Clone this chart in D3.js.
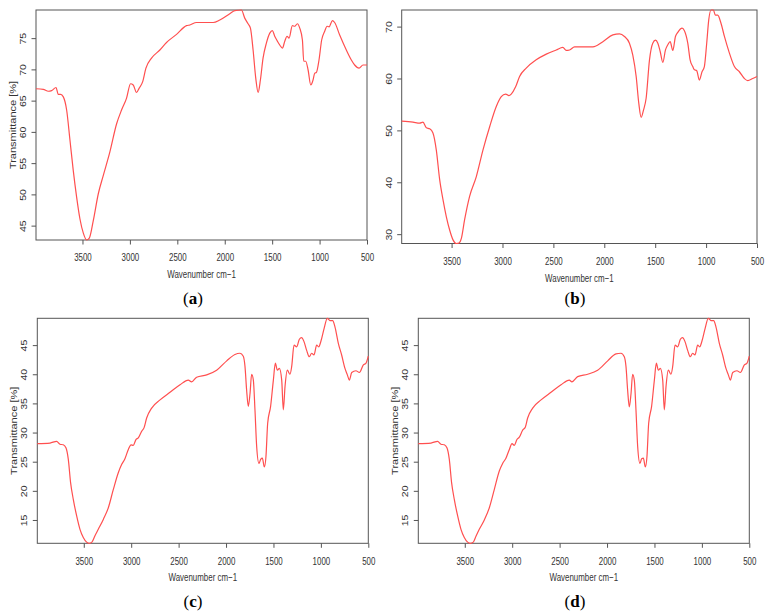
<!DOCTYPE html>
<html><head><meta charset="utf-8">
<script src="https://cdn.jsdelivr.net/npm/d3@7"></script>
<style>body{margin:0;background:#fff}svg{display:block}</style>
</head><body><svg id="chart" width="772" height="615"></svg>
<script>
// ---- data ----
const aWave=[3990,3913,3860,3825,3779,3755,3730,3702,3667,3632,3597,3562,3527,3491,3456,3428,3386,3333,3281,3211,3140,3088,3035,2993,2965,2930,2902,2866,2831,2772,2684,2614,2508,2403,2368,2298,2122,2052,1947,1894,1824,1789,1754,1729,1701,1673,1648,1624,1596,1561,1525,1497,1473,1448,1420,1392,1367,1343,1322,1287,1262,1234,1209,1181,1167,1146,1121,1093,1069,1051,1034,1006,978,946,921,900,865,841,788,718,665,630,584,542,500];
const aT=[66.9,66.8,66.5,66.6,67.1,66.0,66.0,65.6,63.5,58.7,53.8,49.6,46.1,43.8,42.7,43.0,45.8,50.1,53.0,56.8,61.3,63.5,65.4,67.7,67.5,66.3,67.0,68.0,70.2,71.8,73.1,74.3,75.6,77.0,77.1,77.5,77.5,77.9,78.9,79.4,79.5,78.2,77.3,76.6,73.1,68.6,66.3,68.3,71.8,74.2,75.8,76.2,75.3,74.6,73.9,73.4,74.5,75.3,75.0,77.0,76.9,77.3,76.6,74.7,71.3,71.3,69.9,67.5,68.3,69.4,69.5,71.5,74.7,76.1,76.9,76.8,77.8,77.5,75.5,73.1,71.5,70.7,70.2,70.7,70.7];

const bWave=[3990,3879,3813,3781,3748,3715,3683,3650,3617,3584,3552,3519,3486,3454,3427,3404,3372,3323,3257,3192,3126,3061,3012,2969,2937,2914,2871,2832,2767,2669,2570,2472,2407,2374,2341,2292,2178,2112,2014,1916,1851,1802,1753,1720,1687,1661,1638,1615,1589,1556,1524,1497,1474,1451,1425,1399,1376,1353,1327,1301,1278,1236,1213,1180,1157,1131,1115,1092,1066,1040,1017,994,974,951,928,909,886,853,820,771,722,673,624,591,542,500];
const bT=[51.8,51.6,51.4,51.6,50.5,50.3,49.5,46.2,40.5,36.6,33.4,30.8,28.9,28.2,28.3,29.2,32.8,37.3,41.1,46.2,50.7,54.6,56.5,57.0,56.7,57.0,58.4,60.4,62.0,63.6,64.7,65.5,66.0,65.4,65.5,66.1,66.1,66.1,67.1,68.4,68.6,68.1,66.8,64.5,60.4,55.2,52.5,53.9,56.2,63.6,66.8,67.4,66.8,65.2,63.1,65.5,66.5,67.1,65.4,68.1,68.9,69.7,69.2,66.8,63.6,62.3,61.7,61.5,59.7,61.3,62.3,66.8,71.3,73.2,73.2,72.2,72.2,70.6,68.1,64.9,62.3,61.3,60.0,59.6,60.0,60.4];

const cWave=[3990,3856,3786,3751,3716,3688,3663,3639,3610,3575,3540,3505,3470,3442,3414,3382,3347,3294,3241,3189,3136,3101,3066,3030,3002,2978,2950,2925,2890,2865,2837,2784,2696,2591,2485,2398,2363,2310,2204,2099,1993,1906,1853,1818,1800,1783,1765,1747,1730,1712,1695,1677,1653,1635,1617,1596,1579,1561,1530,1501,1480,1459,1438,1413,1396,1378,1354,1326,1308,1283,1255,1227,1203,1178,1150,1122,1097,1073,1044,1023,999,967,932,904,876,851,816,781,746,721,700,675,630,594,552,524,500];
const cT=[28.1,28.2,28.5,28.0,27.9,27.4,25.4,21.4,18.5,15.7,13.4,12.0,11.2,11.0,11.2,12.3,13.4,15.1,17.1,20.2,23.1,24.5,25.5,27.1,27.9,27.8,28.8,29.1,30.2,30.8,32.5,34.2,35.6,36.9,38.2,39.0,38.7,39.5,39.9,40.7,42.3,43.4,43.6,43.1,41.3,37.3,34.5,36.7,40.0,39.0,33.9,27.6,24.7,25.4,25.6,24.1,25.9,31.6,34.5,39.0,41.9,40.7,41.0,39.0,33.9,37.9,40.7,40.0,41.3,45.0,44.7,46.0,46.3,45.6,44.1,43.0,43.6,43.3,45.0,44.7,45.7,47.8,49.6,49.2,49.2,48.1,45.3,43.3,41.0,39.9,39.0,40.3,40.6,40.3,41.6,41.9,43.1];

const dWave=[3990,3856,3786,3751,3716,3688,3663,3639,3610,3575,3540,3505,3470,3442,3410,3382,3347,3294,3241,3189,3136,3101,3066,3030,3002,2978,2950,2925,2890,2862,2837,2784,2696,2591,2485,2398,2370,2310,2204,2099,1993,1906,1853,1818,1800,1783,1765,1747,1730,1712,1695,1677,1653,1635,1617,1596,1579,1561,1530,1501,1480,1459,1438,1413,1396,1378,1354,1326,1308,1283,1255,1227,1203,1178,1150,1122,1097,1073,1044,1023,999,967,932,904,876,851,816,781,746,721,700,675,630,594,552,524,500];
const dT=[28.1,28.2,28.5,28.0,27.9,27.4,25.4,21.4,18.5,15.7,13.4,12.0,11.2,11.0,11.2,12.2,13.4,15.0,17.1,20.2,23.4,24.7,25.6,27.1,28.1,27.8,28.8,29.2,30.4,30.9,32.5,34.2,35.6,36.9,38.2,39.0,38.7,39.6,40.0,40.7,42.3,43.5,43.6,43.0,41.3,37.3,34.4,36.7,40.0,38.9,33.9,27.6,24.7,25.5,25.6,24.1,25.9,31.6,34.5,39.0,41.9,40.7,41.0,39.0,33.9,37.9,40.7,40.0,41.3,45.0,44.7,46.0,46.3,45.6,44.1,43.0,43.6,43.3,45.0,44.7,45.7,47.8,49.6,49.2,49.2,48.1,45.3,43.3,41.0,39.9,39.0,40.3,40.6,40.3,41.6,41.9,43.1];

const xTicks=[3500,3000,2500,2000,1500,1000,500];
const aYTicks=[45,50,55,60,65,70,75];
const bYTicks=[30,40,50,60,70];
const cYTicks=[15,20,25,30,35,40,45];
const dYTicks=[15,20,25,30,35,40,45];
const captions=["a","b","c","d"];
const xTitle="Wavenumber cm\u22121";
const yTitle="Transmittance [%]";

// ---- layout ----
const panels=[
  {wave:aWave,t:aT,yt:aYTicks,cap:captions[0],l:36,r:367,top:10,bot:240,ytitle:true,cx:193,cy:298},
  {wave:bWave,t:bT,yt:bYTicks,cap:captions[1],l:401.7,r:757,top:10,bot:243.5,ytitle:false,cx:575,cy:298},
  {wave:cWave,t:cT,yt:cYTicks,cap:captions[2],l:37.3,r:368.3,top:318.3,bot:543.3,ytitle:true,cx:193,cy:601},
  {wave:dWave,t:dT,yt:dYTicks,cap:captions[3],l:418.3,r:749.3,top:318.3,bot:543.3,ytitle:true,cx:575,cy:601}
];
const sans="'Liberation Sans', Arial, Helvetica, sans-serif";
const lineColor="#ff4f4f", axisColor="#555", textColor="#333";

const svg=d3.select("#chart");
svg.append("rect").attr("width",772).attr("height",615).attr("fill","#fff");

panels.forEach(p=>{
  const data=p.wave.map((w,i)=>({w:w,t:p.t[i]}));
  const x=d3.scaleLinear().domain([d3.max(p.wave),d3.min(p.wave)]).range([p.l,p.r]);
  const y=d3.scaleLinear().domain(d3.extent(p.t)).range([p.bot,p.top]);
  const g=svg.append("g");

  // x axis
  const gx=g.append("g").attr("transform",`translate(0,${p.bot})`)
    .call(d3.axisBottom(x).tickValues(xTicks).tickSize(4.5).tickFormat(d3.format("d")));
  gx.select(".domain").remove();
  gx.selectAll(".tick line").attr("stroke",axisColor);
  gx.selectAll(".tick text").attr("y",21.5).attr("dy",null)
    .attr("font-family",sans).attr("font-size",11).attr("fill",textColor)
    .attr("transform","scale(0.72,1)");

  // y axis
  const gy=g.append("g").attr("transform",`translate(${p.l},0)`)
    .call(d3.axisLeft(y).tickValues(p.yt).tickSize(4.5).tickFormat(d3.format("d")));
  gy.select(".domain").remove();
  gy.selectAll(".tick line").attr("stroke",axisColor);
  gy.selectAll(".tick text").attr("x",null).attr("dy",null).attr("y",null)
    .attr("text-anchor","middle").attr("dominant-baseline","central")
    .attr("font-family",sans).attr("font-size",10.5).attr("fill",textColor)
    .attr("transform","translate(-13,0) rotate(-90) scale(1,0.78)");

  // frame
  g.append("rect").attr("x",p.l).attr("y",p.top).attr("width",p.r-p.l).attr("height",p.bot-p.top)
    .attr("fill","none").attr("stroke",axisColor).attr("stroke-width",1);

  // line
  g.append("path").datum(data)
    .attr("d",d3.line().x(d=>x(d.w)).y(d=>y(d.t)).curve(d3.curveMonotoneX))
    .attr("fill","none").attr("stroke",lineColor).attr("stroke-width",1.2);

  // titles
  g.append("text").attr("transform",`translate(${(p.l+p.r)/2},${p.bot+34}) scale(0.72,1)`)
    .attr("text-anchor","middle").attr("dominant-baseline","central")
    .attr("font-family",sans).attr("font-size",11).attr("fill",textColor).text(xTitle);
  if(p.ytitle){
    g.append("text").attr("transform",`translate(${p.l-23},${(p.top+p.bot)/2}) rotate(-90) scale(1,0.78)`)
      .attr("text-anchor","middle").attr("dominant-baseline","central")
      .attr("font-family",sans).attr("font-size",11).attr("fill",textColor).text(yTitle);
  }

  // caption
  const c=svg.append("text").attr("x",p.cx).attr("y",p.cy).attr("text-anchor","middle")
    .attr("dominant-baseline","central").attr("font-family","'Liberation Serif','DejaVu Serif',serif")
    .attr("font-size",17).attr("fill","#000");
  c.append("tspan").text("(");
  c.append("tspan").attr("font-weight","bold").text(p.cap);
  c.append("tspan").text(")");
});
</script></body></html>
